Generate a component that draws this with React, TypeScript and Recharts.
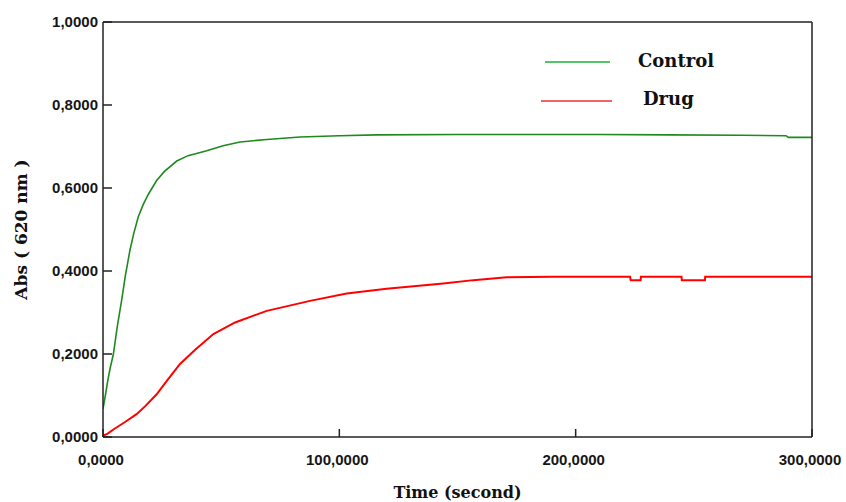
import { Legend, Line, LineChart, ReferenceLine, XAxis, YAxis } from "recharts";

const timeTicks = [0, 100, 200, 300];
const absTicks = [0, 0.2, 0.4, 0.6, 0.8, 1];

const controlTime = [
	0, 1, 2, 3, 4.4, 6, 7.9, 9.5, 11.4, 13, 14.9, 17, 19.2, 22.7, 26, 31.2, 36,
	43.9, 50.8, 58, 69.3, 83.4, 100, 115.8, 150, 180, 210, 240, 270, 289, 290, 300,
];
const controlAbs = [
	0.068, 0.1, 0.135, 0.165, 0.2, 0.265, 0.33, 0.39, 0.45, 0.49, 0.53, 0.56,
	0.585, 0.618, 0.64, 0.665, 0.678, 0.69, 0.702, 0.711, 0.717, 0.723, 0.726,
	0.728, 0.729, 0.729, 0.729, 0.728, 0.727, 0.726, 0.722, 0.722,
];

const drugTime = [
	0, 2, 4.4, 9, 14.2, 18, 22.7, 27, 32.6, 39, 46.7, 55.9, 69.3, 87.6, 103.1,
	120, 144, 156.7, 170.8, 190, 223, 223.3, 227.5, 227.6, 244.8, 244.9, 254.7,
	254.8, 280, 300,
];
const drugAbs = [
	0.003, 0.008, 0.018, 0.035, 0.055, 0.075, 0.103, 0.135, 0.176, 0.21, 0.248,
	0.276, 0.304, 0.328, 0.346, 0.357, 0.37, 0.378, 0.385, 0.386, 0.386, 0.378,
	0.378, 0.386, 0.386, 0.378, 0.378, 0.386, 0.386, 0.386,
];

const controlData = controlTime.map((t, i) => ({ t, abs: controlAbs[i] }));
const drugData = drugTime.map((t, i) => ({ t, abs: drugAbs[i] }));

const legendColors: Record<string, string> = {
	Control: "#56c46c",
	Drug: "#f26464",
};

const fmt = (v: number) => v.toFixed(4).replace(".", ",");

const serif = "DejaVu Serif, Liberation Serif, serif";

const tickFont = {
	fontFamily: "Liberation Sans, Arial, sans-serif",
	fontSize: 15,
	fontWeight: 700,
	fill: "#161616",
};

const titleFont = {
	fontFamily: serif,
	fontSize: 16,
	fontWeight: 700,
	fill: "#111",
};

function LeftTick(props: any) {
	const { x, y, payload } = props;
	return (
		<g>
			<line x1={x + 5} x2={x + 14} y1={y} y2={y} stroke="#222" strokeWidth={1.5} />
			<text x={x} y={y + 5} textAnchor="end" style={tickFont}>
				{fmt(payload.value)}
			</text>
		</g>
	);
}

function RightTick(props: any) {
	const { x, y } = props;
	return <line x1={x - 8} x2={x} y1={y} y2={y} stroke="#222" strokeWidth={1.5} />;
}

function BottomTick(props: any) {
	const { x, y, payload } = props;
	return (
		<g>
			<line x1={x} x2={x} y1={y} y2={y - 8} stroke="#222" strokeWidth={1.5} />
			<text x={x - 2} y={y + 28} textAnchor="middle" style={tickFont}>
				{fmt(payload.value)}
			</text>
		</g>
	);
}

function renderLegend(props: any) {
	const rows = [
		{ lineLeft: 545, lineWidth: 65, lineTop: 61, textLeft: 638, textTop: 49 },
		{ lineLeft: 541, lineWidth: 71, lineTop: 100, textLeft: 643, textTop: 87 },
	];
	return (
		<div style={{ position: "relative" }}>
			{(props.payload || []).map((entry: any, i: number) => {
				const r = rows[i];
				return (
					<div key={entry.value}>
						<div
							style={{
								position: "absolute",
								left: r.lineLeft,
								top: r.lineTop,
								width: r.lineWidth,
								height: 2,
								background: legendColors[entry.value],
							}}
						/>
						<div
							style={{
								position: "absolute",
								left: r.textLeft,
								top: r.textTop,
								fontFamily: serif,
								fontSize: 18,
								fontWeight: 700,
								color: "#111",
								lineHeight: "24px",
								whiteSpace: "nowrap",
							}}
						>
							{entry.value}
						</div>
					</div>
				);
			})}
		</div>
	);
}

export default function App() {
	return (
		<div style={{ position: "absolute", left: 0, top: 0, background: "#fff" }}>
			<LineChart
				width={846}
				height={502}
				margin={{ top: 22, right: 0, bottom: 0, left: 0 }}
			>
				<XAxis
					dataKey="t"
					type="number"
					domain={[0, 300]}
					ticks={timeTicks}
					height={65}
					tickSize={0}
					tickMargin={0}
					tick={<BottomTick />}
					axisLine={{ stroke: "#222", strokeWidth: 1.5 }}
					allowDataOverflow
					label={{
						value: "Time (second)",
						position: "insideBottom",
						offset: 4,
						style: titleFont,
					}}
				/>
				<YAxis
					yAxisId="l"
					type="number"
					domain={[0, 1]}
					ticks={absTicks}
					width={103}
					tickSize={0}
					tickMargin={5}
					tick={<LeftTick />}
					axisLine={{ stroke: "#222", strokeWidth: 1.5 }}
					label={{
						value: "Abs ( 620 nm )",
						angle: -90,
						position: "insideLeft",
						offset: 21,
						style: { ...titleFont, fontSize: 17, textAnchor: "middle" },
					}}
				/>
				<YAxis
					yAxisId="r"
					orientation="right"
					type="number"
					domain={[0, 1]}
					ticks={absTicks}
					width={34}
					tickSize={0}
					tickMargin={0}
					tick={<RightTick />}
					axisLine={{ stroke: "#222", strokeWidth: 1.5 }}
				/>
				<ReferenceLine yAxisId="l" y={1} stroke="#222" strokeWidth={1.5} />
				<Legend
					content={renderLegend}
					verticalAlign="top"
					wrapperStyle={{ position: "absolute", left: 0, top: 0, width: 846, height: 0 }}
				/>
				<Line
					yAxisId="l"
					data={controlData}
					dataKey="abs"
					name="Control"
					type="linear"
					stroke="#1e8a1e"
					strokeWidth={1.6}
					dot={false}
					isAnimationActive={false}
				/>
				<Line
					yAxisId="l"
					data={drugData}
					dataKey="abs"
					name="Drug"
					type="linear"
					stroke="#ff0000"
					strokeWidth={2}
					dot={false}
					isAnimationActive={false}
				/>
			</LineChart>
		</div>
	);
}
